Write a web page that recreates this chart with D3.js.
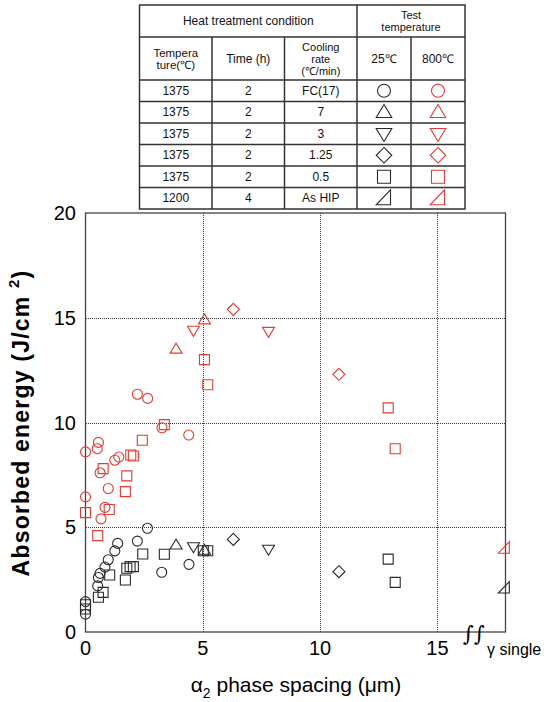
<!DOCTYPE html>
<html>
<head>
<meta charset="utf-8">
<style>
body, html {
  margin: 0;
  padding: 0;
  background: #fff;
  font-family: Arial, "Liberation Sans", sans-serif;
}
.grid line {
  stroke: #3a3a3a;
  stroke-width: 1;
  stroke-dasharray: 1,1;
  shape-rendering: crispEdges;
}
.grid path { display: none; }
.frame {
  fill: none;
  stroke: #444;
  stroke-width: 1.3;
}
.cell {
  stroke: #333;
  stroke-width: 1.5;
}
.mark {
  fill: none;
  stroke-width: 1.1;
}
</style>
<script src="https://d3js.org/d3.v7.min.js"></script>
</head>
<body>
<script>

// ---- data -------------------------------------------------
var conditionTemps = ["1375", "1375", "1375", "1375", "1375", "1200"];
var conditionTimes = ["2", "2", "2", "2", "2", "4"];
var coolingRates   = ["FC(17)", "7", "3", "1.25", "0.5", "As HIP"];
var conditionShapes = ["circle", "triUp", "triDown", "diamond", "square", "rightTri"];
var testTemps = ["25\u2103", "800\u2103"];

var xTicks = [0, 5, 10, 15];
var yTicks = [0, 5, 10, 15, 20];
var gammaSingleX = 17.85;   // where the gamma single specimens sit

// 25 C (black)
var fc17_25  = [[0,1.45],[0,0.85],[0.52,2.2],[0.55,2.6],[0.62,2.8],[0.83,3.1],[0.97,3.45],[1.25,3.87],[1.37,4.23],[2.21,4.34],[2.64,4.95],[3.25,2.85],[4.41,3.23]];
var cr7_25   = [[3.86,4.15],[5.07,3.9]];
var cr3_25   = [[4.6,4.07],[7.8,3.95]];
var cr125_25 = [[6.3,4.42],[10.8,2.88]];
var cr05_25  = [[0,1.3],[0,1.1],[0.55,1.66],[0.75,1.89],[1.03,2.72],[1.7,2.48],[1.76,3.04],[1.9,3.12],[2.04,3.12],[2.44,3.72],[3.36,3.71],[5.02,3.88],[5.21,3.88],[12.9,3.48],[13.2,2.37]];
var hip_25   = [[gammaSingleX,2.1]];

// 800 C (red)
var fc17_800  = [[0,8.6],[0,6.45],[0.5,8.75],[0.55,9.05],[0.62,7.6],[0.66,5.4],[0.83,5.95],[0.97,6.85],[1.25,8.2],[1.42,8.35],[2.21,11.35],[2.65,11.15],[3.26,9.75],[4.4,9.4]];
var cr7_800   = [[3.86,13.5],[5.07,14.9]];
var cr3_800   = [[4.6,14.4],[7.8,14.35]];
var cr125_800 = [[6.3,15.4],[10.8,12.3]];
var cr05_800  = [[0,5.7],[0.52,4.6],[0.75,7.8],[1.01,5.85],[1.7,6.7],[1.76,7.45],[1.93,8.45],[2.04,8.4],[2.42,9.15],[3.36,9.9],[5.07,13.0],[5.21,11.8],[12.9,10.7],[13.2,8.75]];
var hip_800   = [[gammaSingleX,4.0]];

var black = "#2a2a2a", red = "#e23b35";

var series = [
  {shape: "circle",   color: black, pts: fc17_25},
  {shape: "triUp",    color: black, pts: cr7_25},
  {shape: "triDown",  color: black, pts: cr3_25},
  {shape: "diamond",  color: black, pts: cr125_25},
  {shape: "square",   color: black, pts: cr05_25},
  {shape: "rightTri", color: black, pts: hip_25},
  {shape: "circle",   color: red, pts: fc17_800},
  {shape: "triUp",    color: red, pts: cr7_800},
  {shape: "triDown",  color: red, pts: cr3_800},
  {shape: "diamond",  color: red, pts: cr125_800},
  {shape: "square",   color: red, pts: cr05_800},
  {shape: "rightTri", color: red, pts: hip_800}
];

// ---- marker shapes ------------------------------------------
function shapePath(type, k) {
  var r = 5 * k;
  switch (type) {
    case "circle":  return "M" + r + ",0A" + r + "," + r + " 0 1,1 " + (-r) + ",0A" + r + "," + r + " 0 1,1 " + r + ",0Z";
    case "square":  return "M" + (-r) + "," + (-r) + "H" + r + "V" + r + "H" + (-r) + "Z";
    case "triUp":   return "M0," + (-1.2*r) + "L" + (1.2*r) + "," + (0.8*r) + "L" + (-1.2*r) + "," + (0.8*r) + "Z";
    case "triDown": return "M0," + (1.2*r) + "L" + (1.2*r) + "," + (-0.8*r) + "L" + (-1.2*r) + "," + (-0.8*r) + "Z";
    case "diamond": return "M0," + (-1.2*r) + "L" + (1.2*r) + ",0L0," + (1.2*r) + "L" + (-1.2*r) + ",0Z";
    case "rightTri":return "M" + (-1.2*r) + "," + r + "L" + r + "," + r + "L" + r + "," + (-1.3*r) + "Z";
  }
}

// ---- layout -------------------------------------------------
var W = 550, H = 702;
var plot = {left: 85.5, right: 505.5, top: 213, bottom: 632};

var svg = d3.select("body").append("svg")
  .attr("width", W)
  .attr("height", H);

var x = d3.scaleLinear().domain([0, 17.9]).range([plot.left, plot.right]);
var y = d3.scaleLinear().domain([0, 20]).range([plot.bottom, plot.top]);

// grid
svg.append("g")
  .attr("class", "grid")
  .attr("transform", "translate(0," + plot.bottom + ")")
  .call(d3.axisBottom(x).tickValues([5, 10, 15]).tickSize(-(plot.bottom - plot.top)).tickFormat(""));
svg.append("g")
  .attr("class", "grid")
  .attr("transform", "translate(" + plot.left + ",0)")
  .call(d3.axisLeft(y).tickValues([5, 10, 15]).tickSize(-(plot.right - plot.left)).tickFormat(""));

svg.append("rect")
  .attr("class", "frame")
  .attr("x", plot.left).attr("y", plot.top)
  .attr("width", plot.right - plot.left)
  .attr("height", plot.bottom - plot.top);

// tick labels
svg.append("g").selectAll("text")
  .data(xTicks).enter().append("text")
  .attr("x", function(d) { return x(d); })
  .attr("y", 655)
  .attr("text-anchor", "middle")
  .attr("font-size", 20)
  .text(function(d) { return d; });

svg.append("g").selectAll("text")
  .data(yTicks).enter().append("text")
  .attr("x", 76)
  .attr("y", function(d) { return y(d) + 7; })
  .attr("text-anchor", "end")
  .attr("font-size", 20)
  .text(function(d) { return d; });

// axis titles
var xt = svg.append("text")
  .attr("x", 296).attr("y", 692)
  .attr("text-anchor", "middle")
  .attr("font-size", 21);
xt.append("tspan").text("\u03b1");
xt.append("tspan").attr("font-size", 14).attr("dy", 6).text("2");
xt.append("tspan").attr("dy", -6).text(" phase spacing (\u03bcm)");

var yt = svg.append("text")
  .attr("transform", "translate(29,423) rotate(-90)")
  .attr("text-anchor", "middle")
  .attr("font-size", 23)
  .attr("font-weight", "bold")
  .attr("letter-spacing", 1.2);
yt.append("tspan").text("Absorbed energy (J/cm ");
yt.append("tspan").attr("font-size", 15).attr("dy", -10).text("2");
yt.append("tspan").attr("dy", 10).text(")");

// axis break and gamma single label
svg.append("text")
  .attr("x", 463).attr("y", 641)
  .attr("font-family", "DejaVu Serif")
  .attr("font-style", "italic")
  .attr("font-size", 21)
  .text("\u222b\u222b");
svg.append("text")
  .attr("x", 487).attr("y", 655)
  .attr("font-size", 16)
  .text("\u03b3 single");

// markers
series.forEach(function(s) {
  svg.append("g").selectAll("path")
    .data(s.pts).enter().append("path")
    .attr("class", "mark")
    .attr("stroke", s.color)
    .attr("transform", function(d) { return "translate(" + x(d[0]) + "," + y(d[1]) + ")"; })
    .attr("d", shapePath(s.shape, 1));
});

// ---- condition table ----------------------------------------
var colX = [139.5, 212, 284.5, 357, 411, 465];
var rowY = [5, 37, 80, 101.5, 123, 144.5, 166, 187.5, 209];
var tbl = svg.append("g").attr("font-size", 12).attr("fill", "#111");

tbl.append("rect")
  .attr("class", "cell").attr("fill", "#fff")
  .attr("x", colX[0]).attr("y", rowY[0])
  .attr("width", colX[5] - colX[0]).attr("height", rowY[8] - rowY[0]);

rowY.slice(1, 8).forEach(function(yy) {
  tbl.append("line").attr("class", "cell")
    .attr("x1", colX[0]).attr("x2", colX[5]).attr("y1", yy).attr("y2", yy);
});
[1, 2, 4].forEach(function(i) {
  tbl.append("line").attr("class", "cell")
    .attr("x1", colX[i]).attr("x2", colX[i]).attr("y1", rowY[1]).attr("y2", rowY[8]);
});
tbl.append("line").attr("class", "cell")
  .attr("x1", colX[3]).attr("x2", colX[3]).attr("y1", rowY[0]).attr("y2", rowY[8]);

function cellText(cx, cy, lines, lh, fs) {
  var t = tbl.append("text").attr("text-anchor", "middle");
  if (fs) t.attr("font-size", fs);
  var y0 = cy - (lines.length - 1) * lh / 2 + 4;
  lines.forEach(function(l, i) {
    t.append("tspan").attr("x", cx).attr("y", y0 + i * lh).text(l);
  });
}
function mid(a, b) { return (a + b) / 2; }

cellText(mid(colX[0], colX[3]), mid(rowY[0], rowY[1]), ["Heat treatment  condition"], 12);
cellText(mid(colX[3], colX[5]), mid(rowY[0], rowY[1]), ["Test", "temperature"], 12, 11);
cellText(mid(colX[0], colX[1]), mid(rowY[1], rowY[2]), ["Tempera", "ture(\u2103)"], 12, 11.5);
cellText(mid(colX[1], colX[2]), mid(rowY[1], rowY[2]), ["Time  (h)"], 12);
cellText(mid(colX[2], colX[3]), mid(rowY[1], rowY[2]), ["Cooling", "rate", "(\u2103/min)"], 12, 11);
testTemps.forEach(function(t, i) {
  cellText(mid(colX[3 + i], colX[4 + i]), mid(rowY[1], rowY[2]), [t], 12);
});

coolingRates.forEach(function(c, i) {
  var cy = mid(rowY[2 + i], rowY[3 + i]);
  cellText(mid(colX[0], colX[1]), cy, [conditionTemps[i]], 12);
  cellText(mid(colX[1], colX[2]), cy, [conditionTimes[i]], 12);
  cellText(mid(colX[2], colX[3]), cy, [c], 12);
  [black, red].forEach(function(col, j) {
    tbl.append("path")
      .attr("class", "mark")
      .attr("stroke", col)
      .attr("stroke-width", 1.5)
      .attr("transform", "translate(" + mid(colX[3 + j], colX[4 + j]) + "," + cy + ")")
      .attr("d", shapePath(conditionShapes[i], 1.3));
  });
});

</script>
</body>
</html>
